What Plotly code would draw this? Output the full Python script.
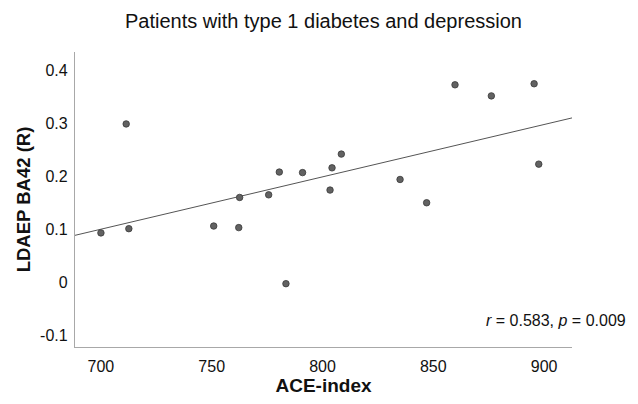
import numpy as np
import plotly.graph_objects as go

ace_index = [700.0, 711.4, 712.6, 750.9, 762.2, 762.6, 775.7, 780.5, 783.5, 791.0,
             803.4, 804.3, 808.5, 835.0, 847.0, 859.8, 876.2, 895.5, 897.6]
ldaep_ba42 = [0.093, 0.299, 0.101, 0.106, 0.103, 0.160, 0.165, 0.208, -0.003, 0.207,
              0.174, 0.216, 0.242, 0.194, 0.150, 0.373, 0.352, 0.375, 0.223]
x_ticks = [700, 750, 800, 850, 900]
y_ticks = [-0.1, 0, 0.1, 0.2, 0.3, 0.4]
y_tick_labels = ["-0.1", "0", "0.1", "0.2", "0.3", "0.4"]
x_range = [688.3, 912.6]
y_range = [-0.1227, 0.435]

slope, intercept = np.polyfit(ace_index, ldaep_ba42, 1)
fit_x = np.array(x_range)
fit_y = slope * fit_x + intercept

fig = go.Figure()
fig.add_trace(go.Scatter(x=fit_x, y=fit_y, mode="lines",
                         line=dict(color="#555555", width=1), showlegend=False))
fig.add_trace(go.Scatter(x=ace_index, y=ldaep_ba42, mode="markers",
                         marker=dict(size=6.5, color="#626262",
                                     line=dict(color="#383838", width=0.8)),
                         showlegend=False))

fig.add_annotation(text="<i>r</i> = 0.583, <i>p</i> = 0.009",
                   xref="paper", yref="paper", x=1.0, xshift=56, y=0.0915,
                   xanchor="right", yanchor="middle", showarrow=False,
                   font=dict(size=16, color="#111111"))

# page body has an 8px margin, so the figure is 8px smaller than the window
fig.update_layout(
    width=630, height=396,
    margin=dict(l=67, r=66, t=44, b=57, autoexpand=False),
    paper_bgcolor="white", plot_bgcolor="white",
    font=dict(family="Liberation Sans, Arial, sans-serif", color="#111111"),
    title=dict(text="Patients with type 1 diabetes and depression",
               x=0.5, xref="paper", xanchor="center", y=0.967, yanchor="middle",
               automargin=False,
               font=dict(size=20, color="#111111")),
    xaxis=dict(range=x_range, tickvals=x_ticks, showgrid=False, zeroline=False,
               automargin=False,
               showline=True, linecolor="#a8a8a8", linewidth=1.2, ticks="",
               tickfont=dict(size=16), ticklabelstandoff=5,
               title=dict(text="<b>ACE-index</b>", font=dict(size=19), standoff=3)),
    yaxis=dict(range=y_range, tickvals=y_ticks, ticktext=y_tick_labels,
               automargin=False,
               showgrid=False, zeroline=False,
               showline=True, linecolor="#a8a8a8", linewidth=1.2, ticks="",
               tickfont=dict(size=16), ticklabelstandoff=3,
               title=dict(text="<b>LDAEP BA42 (R)</b>", font=dict(size=18.5), standoff=4)),
)

fig.write_html("out.html")
